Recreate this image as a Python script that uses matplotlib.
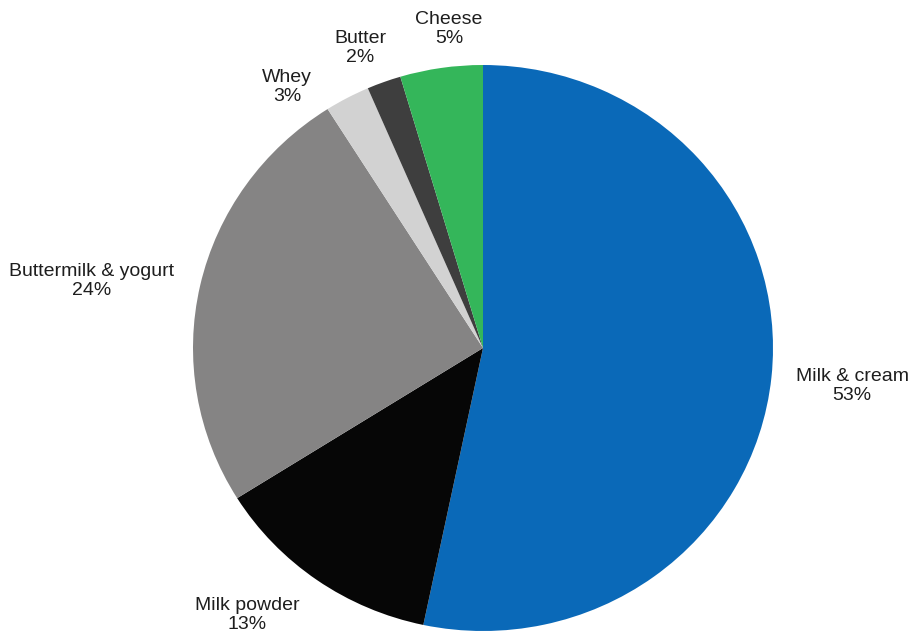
import matplotlib.pyplot as plt

plt.rcParams["font.family"] = ["Liberation Sans", "DejaVu Sans"]

categories = ["Milk & cream", "Milk powder", "Buttermilk & yogurt", "Whey", "Butter", "Cheese"]
shares = [53.3, 12.8, 24.9, 2.5, 1.9, 4.6]
shown_pct = [53, 13, 24, 3, 2, 5]
colors = ["#0a69b8", "#060606", "#858484", "#d2d2d2", "#3e3e3e", "#34b65a"]

# label anchor points in pixel space (y measured from top)
label_pos = [(852, 386), (247, 615), (92, 281), (287, 87), (360, 48), (449, 29)]

W, H = 918, 635
# pie is slightly squashed vertically in the reference
RX, RY = 290, 283
sy = RX / RY
CX, CY = 483, 348

fig = plt.figure(figsize=(W / 100, H / 100), dpi=100)
ax = fig.add_axes([0, 0, 1, 1])

ax.pie(
    shares,
    colors=colors,
    startangle=90,
    counterclock=False,
    center=(CX, (H - CY) * sy),
    radius=RX,
    wedgeprops=dict(linewidth=0),
)

for name, v, (x, y) in zip(categories, shown_pct, label_pos):
    ax.text(x, (H - y) * sy, f"{name}\n{v}%", ha="center", va="center",
            fontsize=14, color="#1e1e1e", linespacing=1.15)

ax.set_xlim(0, W)
ax.set_ylim(0, H * sy)
ax.set_aspect("auto")
ax.axis("off")

fig.savefig("out.png", dpi=100, facecolor="white")
